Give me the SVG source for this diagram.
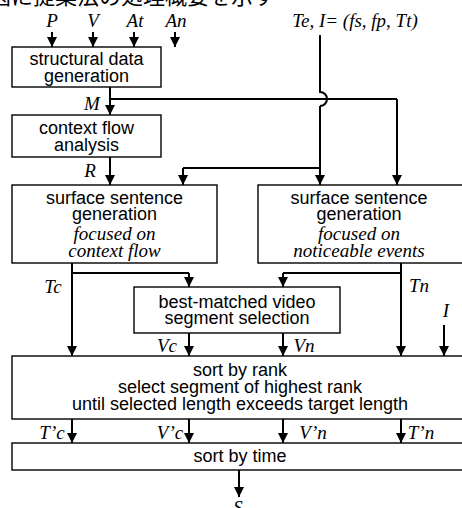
<svg xmlns="http://www.w3.org/2000/svg" width="462" height="508" viewBox="0 0 462 508">
  <style>
    .box { fill: #fff; stroke: #000; stroke-width: 1.4; }
    .t { font-family: "Liberation Sans", Arial, sans-serif; font-size: 18px; fill: #000; text-anchor: middle; }
    .ti { font-family: "Liberation Serif", "Times New Roman", serif; font-style: italic; font-size: 19px; fill: #000; text-anchor: middle; }
    .lbl { font-family: "Liberation Serif", "Times New Roman", serif; font-style: italic; font-size: 19px; fill: #000; text-anchor: middle; }
    .cap { font-family: "Noto Sans CJK JP", "Noto Sans CJK SC", sans-serif; font-size: 22px; fill: #000; }
    .wire { fill: none; stroke: #000; stroke-width: 2; }
    .arr { fill: none; stroke: #000; stroke-width: 2; marker-end: url(#head); }
  </style>
  <defs>
    <!-- solid triangular arrowhead, tip at the end of the line -->
    <marker id="head" markerUnits="userSpaceOnUse" markerWidth="10" markerHeight="10" refX="10" refY="5" orient="auto" viewBox="0 0 10 10">
      <path d="M0,0 L10,5 L0,10 Z" fill="#000"/>
    </marker>
  </defs>

  <!-- caption line (partly above the frame) -->
  <text class="cap" x="-11" y="4">図に提案法の処理概要を示す</text>

  <!-- connectors -->
  <g id="connectors">
    <!-- inputs -->
    <path class="arr" d="M52,32 V47"/>
    <path class="arr" d="M93,32 V47"/>
    <path class="arr" d="M134,32 V47"/>
    <path class="arr" d="M175,32 V47"/>
    <!-- M -->
    <path class="arr" d="M110,87 V115"/>
    <path class="wire" d="M110,99 H397"/>
    <path class="arr" d="M397,99 V185"/>
    <!-- Te, I line with hop over M -->
    <path class="wire" d="M320,35 V92 A7,7 0 0 1 320,106"/>
    <path class="arr" d="M320,106 V185"/>
    <path class="wire" d="M320,168 H183"/>
    <path class="arr" d="M183,168 V185"/>
    <!-- R -->
    <path class="arr" d="M110,157 V185"/>
    <!-- Tc -->
    <path class="arr" d="M72,263 V356"/>
    <path class="wire" d="M72,273 H189"/>
    <path class="arr" d="M189,273 V287"/>
    <!-- Tn -->
    <path class="arr" d="M401,263 V356"/>
    <path class="wire" d="M401,273 H283"/>
    <path class="arr" d="M283,273 V287"/>
    <!-- Vc, Vn -->
    <path class="arr" d="M189,333 V356"/>
    <path class="arr" d="M283,333 V356"/>
    <!-- I -->
    <path class="arr" d="M444,325 V356"/>
    <!-- selected outputs -->
    <path class="arr" d="M72,419 V443"/>
    <path class="arr" d="M189,419 V443"/>
    <path class="arr" d="M283,419 V443"/>
    <path class="arr" d="M401,419 V443"/>
    <!-- S -->
    <path class="arr" d="M239,470 V497"/>
  </g>

  <!-- connector labels -->
  <g id="labels">
    <text class="lbl" x="52" y="27">P</text>
    <text class="lbl" x="93" y="27">V</text>
    <text class="lbl" x="135" y="27">At</text>
    <text class="lbl" x="176" y="27">An</text>
    <text class="lbl" x="355" y="27">Te, I= (fs, fp, Tt)</text>
    <text class="lbl" x="92" y="110">M</text>
    <text class="lbl" x="90" y="177">R</text>
    <text class="lbl" x="53" y="293">Tc</text>
    <text class="lbl" x="419" y="292">Tn</text>
    <text class="lbl" x="446" y="317">I</text>
    <text class="lbl" x="167" y="352">Vc</text>
    <text class="lbl" x="304" y="352">Vn</text>
    <text class="lbl" x="52" y="439">T’c</text>
    <text class="lbl" x="170" y="439">V’c</text>
    <text class="lbl" x="313" y="439">V’n</text>
    <text class="lbl" x="421" y="439">T’n</text>
    <text class="lbl" x="238" y="514">S</text>
  </g>

  <g id="structural">
    <rect class="box" x="12" y="47" width="149" height="40"/>
    <text class="t" x="86.5" y="65">structural data</text>
    <text class="t" x="86.5" y="82">generation</text>
  </g>

  <g id="context">
    <rect class="box" x="12" y="115" width="149" height="42"/>
    <text class="t" x="86.5" y="134">context flow</text>
    <text class="t" x="86.5" y="151">analysis</text>
  </g>

  <g id="surface-context">
    <rect class="box" x="12" y="185" width="205" height="78"/>
    <text class="t" x="114.5" y="204">surface sentence</text>
    <text class="t" x="114.5" y="220">generation</text>
    <text class="ti" x="114.5" y="240">focused on</text>
    <text class="ti" x="114.5" y="257">context flow</text>
  </g>

  <g id="surface-events">
    <rect class="box" x="258" y="185" width="212" height="78"/>
    <text class="t" x="359" y="204">surface sentence</text>
    <text class="t" x="359" y="220">generation</text>
    <text class="ti" x="359" y="240">focused on</text>
    <text class="ti" x="359" y="257">noticeable events</text>
  </g>

  <g id="best-matched">
    <rect class="box" x="134" y="287" width="206" height="46"/>
    <text class="t" x="237" y="308">best-matched video</text>
    <text class="t" x="237" y="324">segment selection</text>
  </g>

  <g id="rank">
    <rect class="box" x="12" y="356" width="458" height="63"/>
    <text class="t" x="240" y="376">sort by rank</text>
    <text class="t" x="240" y="393">select segment of highest rank</text>
    <text class="t" x="240" y="410">until selected length exceeds target length</text>
  </g>

  <g id="time">
    <rect class="box" x="12" y="443" width="458" height="27"/>
    <text class="t" x="240" y="462">sort by time</text>
  </g>
</svg>
